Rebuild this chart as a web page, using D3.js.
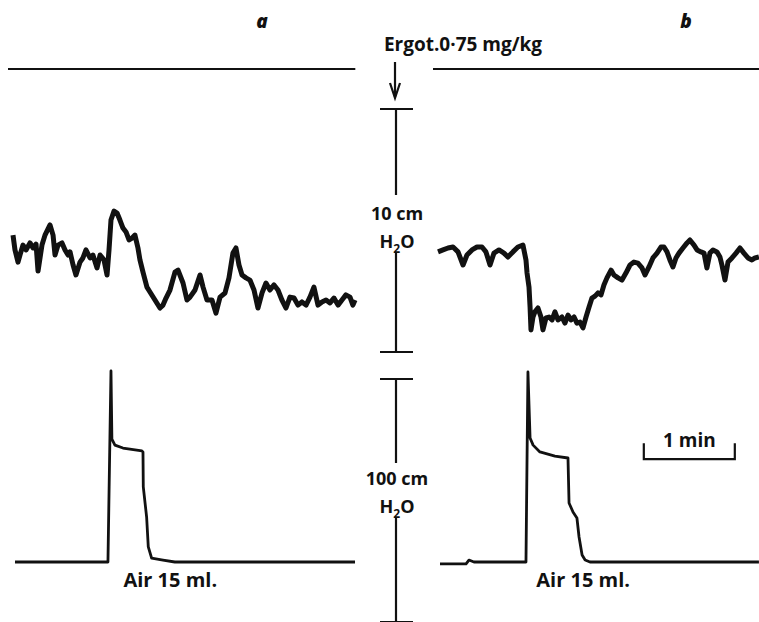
<!DOCTYPE html>
<html>
<head>
<meta charset="utf-8">
<script src="https://cdn.jsdelivr.net/npm/d3@7"></script>
<style>
  html, body { margin: 0; padding: 0; background: #fff; }
  svg text { font-family: "Open Sans", "Noto Sans", sans-serif; font-weight: 700; fill: #111; }
</style>
</head>
<body>
<div id="chart"></div>
<script>
// time in seconds from start of each record, pressure in cm H2O
const panelLabels = ["a", "b"];
const drugLabel = "Ergot.0\u00B775 mg/kg";
const injectLabel = "Air 15 ml.";
const upperCal = ["10 cm", "H", "2", "O"];
const lowerCal = ["100 cm", "H", "2", "O"];
const timeBarLabel = "1 min";

// record a: intragastric pressure (upper, cm H2O)
const aUpper = [[3.3,4.81],[4.6,4.20],[6.6,3.70],[7.9,3.99],[9.9,4.40],[11.9,4.20],[14.5,4.49],[16.5,4.28],[18.5,4.44],[19.8,3.33],[22.4,4.40],[24.4,4.81],[27.7,5.23],[29.7,4.81],[31.0,3.99],[33.0,4.40],[35.6,4.49],[37.6,4.20],[39.6,3.99],[40.9,4.12],[42.9,3.58],[44.8,3.17],[47.5,3.70],[49.4,3.87],[51.4,4.20],[54.1,3.87],[56.0,3.99],[58.7,3.46],[60.7,3.99],[63.3,3.79],[65.3,3.17],[66.6,4.20],[67.9,5.43],[69.9,5.80],[71.9,5.72],[73.8,5.43],[75.8,5.10],[77.8,4.94],[79.8,4.61],[81.8,4.69],[83.7,4.81],[85.7,4.28],[87.0,3.79],[89.0,3.29],[91.6,2.67],[93.6,2.47],[96.9,2.14],[100.2,1.81],[102.2,1.93],[104.2,2.22],[106.8,2.55],[110.1,3.29],[112.1,3.37],[115.4,2.84],[118.0,2.14],[120.0,2.26],[123.3,2.55],[126.6,3.17],[128.6,2.67],[131.2,2.14],[134.5,2.14],[137.1,1.60],[139.8,2.26],[143.1,2.43],[145.7,3.05],[148.3,4.07],[150.3,4.28],[152.3,3.58],[154.3,3.17],[156.9,3.05],[159.5,2.96],[162.2,2.55],[164.8,1.81],[167.5,2.43],[170.1,2.84],[172.7,2.55],[175.4,2.76],[178.0,2.55],[180.6,2.14],[183.3,1.81],[185.9,2.26],[188.6,2.22],[191.2,1.93],[193.8,2.06],[196.5,1.93],[199.1,2.26],[201.7,2.67],[204.4,1.93],[207.0,2.06],[209.7,2.14],[212.3,2.02],[214.9,2.22],[217.6,1.93],[220.2,2.14],[222.8,2.35],[225.5,2.26],[227.4,1.93],[228.8,2.14]];

// record a: balloon pressure (lower, cm H2O)
const aLower = [[4.6,0],[65.9,0],[67.9,78.6],[68.5,50.6],[70.5,48.1],[75.8,46.9],[88.3,45.7],[89.0,45.3],[89.2,30.9],[91.4,18.5],[92.5,6.2],[94.7,1.6],[102.2,0.8],[110,0],[228.8,0]];

// record b
const bUpper = [[3.3,4.12],[6.6,4.20],[9.9,4.28],[13.2,4.32],[16.5,4.12],[19.8,3.58],[22.4,3.99],[25.7,4.20],[29.0,4.32],[32.3,4.32],[34.9,4.12],[37.6,3.58],[40.2,4.07],[43.5,4.20],[46.8,4.07],[49.4,3.91],[52.7,4.12],[56.0,4.32],[59.3,4.40],[61.3,3.79],[62.0,3.25],[63.3,2.67],[64.0,1.85],[64.6,0.91],[65.9,1.44],[67.2,1.65],[69.2,1.81],[71.2,1.44],[72.5,0.91],[74.5,1.40],[76.5,1.44],[78.5,1.32],[80.4,1.65],[82.4,1.32],[85.0,1.44],[87.0,1.19],[89.0,1.52],[91.0,1.32],[93.0,1.44],[94.9,1.19],[96.9,1.23],[98.9,0.99],[100.9,1.44],[102.9,1.85],[104.8,2.22],[106.8,2.30],[108.8,2.43],[110.8,2.35],[112.7,2.76],[114.7,3.05],[117.4,3.37],[119.3,3.17],[122.0,3.05],[124.6,2.96],[127.2,3.25],[129.9,3.58],[132.5,3.70],[135.1,3.66],[137.8,3.46],[139.8,3.17],[142.4,3.50],[145.0,3.87],[147.7,4.07],[150.3,4.32],[152.3,4.32],[154.3,4.12],[156.2,3.79],[158.2,3.50],[160.2,3.87],[162.2,4.07],[164.8,4.28],[167.5,4.49],[169.4,4.61],[172.1,4.40],[174.1,4.20],[176.7,4.12],[178.7,4.07],[180.6,3.46],[182.6,4.07],[184.6,4.20],[187.2,4.12],[189.2,3.91],[190.5,3.58],[192.5,2.96],[194.5,3.70],[197.1,3.87],[199.8,4.07],[202.4,4.28],[205.0,4.07],[207.7,3.87],[210.3,3.79],[212.3,3.87],[214.9,3.91]];

const bLower = [[4.6,-0.8],[21.8,-0.8],[23.7,0.8],[27.0,0],[61.3,0],[62.6,78.2],[64.0,51.0],[66.0,48.1],[70.5,45.3],[80.4,43.6],[89.0,42.8],[89.7,24.3],[92.3,20.6],[94.9,18.1],[96.3,10.3],[98.3,2.9],[100.3,0.8],[103.5,0],[214.9,0]];

const recordLength = [229, 215];   // s
const injectLabelTime = [107, 99]; // s, centre of the injection label
const timeBar = [139, 60];         // start (s, record b), length (s)

const width = 759, height = 622;
const pxPerSec = 91 / 60;

const svg = d3.select("#chart").append("svg")
    .attr("width", width)
    .attr("height", height);

svg.append("rect").attr("width", width).attr("height", height).attr("fill", "#fff");

// scales
const xA = d3.scaleLinear().domain([0, recordLength[0]]).range([8, 8 + recordLength[0] * pxPerSec]);
const xB = d3.scaleLinear().domain([0, recordLength[1]]).range([433, 433 + recordLength[1] * pxPerSec]);
const yUpper = d3.scaleLinear().domain([0, 10]).range([352, 109]);
const yLower = d3.scaleLinear().domain([0, 100]).range([562, 319]);

const records = [
    { x: xA, upper: aUpper, lower: aLower, label: panelLabels[0], labelX: 262 },
    { x: xB, upper: bUpper, lower: bLower, label: panelLabels[1], labelX: 686 }
];

const markY = 69;

records.forEach((r, i) => {
    // drug marker line
    svg.append("line")
        .attr("x1", r.x(0)).attr("x2", r.x(recordLength[i]))
        .attr("y1", markY).attr("y2", markY)
        .attr("stroke", "#111").attr("stroke-width", 2.2);

    // panel letter
    svg.append("text")
        .attr("x", r.labelX).attr("y", 28)
        .attr("text-anchor", "middle")
        .style("font-style", "italic").style("font-weight", 800)
        .style("font-size", "19px")
        .text(r.label);

    // upper trace
    svg.append("path")
        .datum(r.upper)
        .attr("d", d3.line().x(d => r.x(d[0])).y(d => yUpper(d[1])))
        .attr("fill", "none")
        .attr("stroke", "#111")
        .attr("stroke-width", 5)
        .attr("stroke-linejoin", "round");

    // lower trace
    svg.append("path")
        .datum(r.lower)
        .attr("d", d3.line().x(d => r.x(d[0])).y(d => yLower(d[1])))
        .attr("fill", "none")
        .attr("stroke", "#111")
        .attr("stroke-width", 2.8)
        .attr("stroke-linejoin", "round");

    // injection label
    svg.append("text")
        .attr("x", r.x(injectLabelTime[i])).attr("y", 587)
        .attr("text-anchor", "middle")
        .style("font-size", "20px")
        .text(injectLabel);
});

// drug label and arrow
const calX = 396;
svg.append("text")
    .attr("x", 463).attr("y", 51)
    .attr("text-anchor", "middle")
    .style("font-size", "19px")
    .text(drugLabel);

svg.append("line")
    .attr("x1", calX - 1).attr("x2", calX - 1)
    .attr("y1", 62).attr("y2", 97)
    .attr("stroke", "#111").attr("stroke-width", 2.2);
svg.append("path")
    .attr("d", `M${calX - 6},${83} L${calX - 1},${98} L${calX + 4},${83}`)
    .attr("fill", "none").attr("stroke", "#111").attr("stroke-width", 2.2);

// calibration bars
function calBar(y, top, bottom, gapTop, gapBottom, labels, textY) {
    const g = svg.append("g").attr("stroke", "#111").attr("stroke-width", 2.2);
    g.append("line").attr("x1", calX).attr("x2", calX).attr("y1", y(top)).attr("y2", gapTop);
    g.append("line").attr("x1", calX).attr("x2", calX).attr("y1", gapBottom).attr("y2", y(bottom));
    g.append("line").attr("x1", calX - 16).attr("x2", calX + 17).attr("y1", y(top)).attr("y2", y(top));
    g.append("line").attr("x1", calX - 16).attr("x2", calX + 17).attr("y1", y(bottom)).attr("y2", y(bottom));

    svg.append("text")
        .attr("x", calX + 1).attr("y", textY)
        .attr("text-anchor", "middle")
        .style("font-size", "18px")
        .text(labels[0]);
    const t2 = svg.append("text")
        .attr("x", calX + 1).attr("y", textY + 28)
        .attr("text-anchor", "middle")
        .style("font-size", "18px");
    t2.append("tspan").text(labels[1]);
    t2.append("tspan").attr("dy", 5).style("font-size", "12px").text(labels[2]);
    t2.append("tspan").attr("dy", -5).text(labels[3]);
}

calBar(yUpper, 10, 0, 195, 253, upperCal, 220);
calBar(yLower, 75.3, -24.7, 463, 518, lowerCal, 485);

// time bar
const tb0 = xB(timeBar[0]), tb1 = xB(timeBar[0] + timeBar[1]);
const tbY = yLower(42.3);
svg.append("path")
    .attr("d", `M${tb0},${tbY - 16} V${tbY} H${tb1} V${tbY - 16}`)
    .attr("fill", "none").attr("stroke", "#111").attr("stroke-width", 2.2);
svg.append("text")
    .attr("x", (tb0 + tb1) / 2).attr("y", tbY - 12)
    .attr("text-anchor", "middle")
    .style("font-size", "19px")
    .text(timeBarLabel);
</script>
</body>
</html>
